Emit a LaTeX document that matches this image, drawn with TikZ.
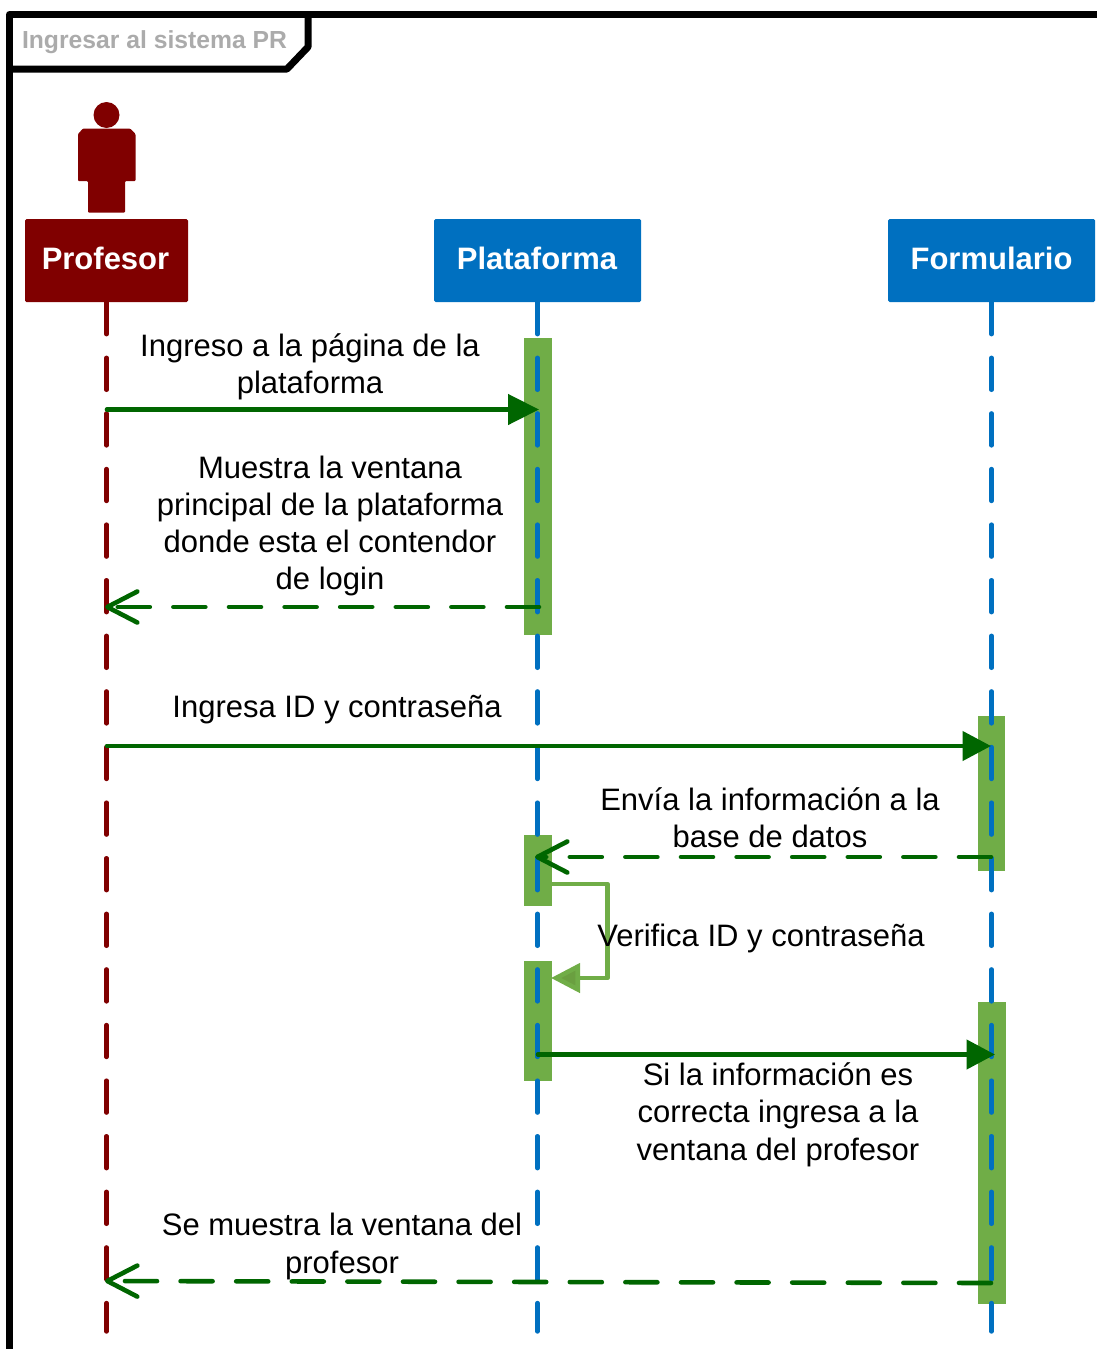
\documentclass[tikz,border=0pt]{standalone}
\usepackage{fontspec}
\setmainfont{Liberation Sans}
\usetikzlibrary{arrows.meta}
\definecolor{maroonc}{HTML}{800000}
\definecolor{bluec}{HTML}{0070C0}
\definecolor{barc}{HTML}{70AD47}
\definecolor{selfhead}{HTML}{6A9F40}
\definecolor{msgc}{HTML}{006600}
\definecolor{titlec}{HTML}{ABABAB}
\tikzset{
  header/.style={rectangle,rounded corners=1.5pt,minimum height=83pt,inner sep=0pt,text=white},
  headtext/.style={inner sep=0pt,text=white,font=\fontsize{31}{37}\selectfont\bfseries},
  lifeline/.style={line width=4.4pt,line cap=round,dash pattern=on 32pt off 23.6pt},
  actbar/.style={rectangle,fill=barc,minimum width=28pt,inner sep=0pt},
  msgsolid/.style={draw=msgc,line width=4.6pt,line cap=round,-{Triangle[length=31pt,width=30pt]}},
  msgsolidshort/.style={draw=msgc,line width=4.6pt,line cap=round,-{Triangle[length=28.5pt,width=29pt]}},
  msgdash/.style={draw=msgc,line width=4.6pt,line cap=round,dash pattern=on 32pt off 23.6pt,-{Straight Barb[length=30pt,width=31pt,round]}},
  selfmsg/.style={draw=barc,line width=4.6pt,line join=round,-{Triangle[length=29pt,width=29pt,fill=selfhead]}},
  label/.style={align=center,inner sep=0pt,font=\fontsize{31}{37.3}\selectfont,text=black},
  framepath/.style={line width=7pt,line join=round,draw=black},
}
\begin{document}
\begin{tikzpicture}[x=1pt,y=-1pt]
\useasboundingbox (0,0) rectangle (1097,1349);
% frame
\draw[framepath] (9.5,1349) -- (9.5,14.5) -- (1097,14.5);
\draw[framepath] (9.5,69) -- (287,69) -- (308,47) -- (308,14.5);
\node[inner sep=0pt,text=titlec,font=\fontsize{24.7}{30}\selectfont\bfseries] (title) at (154.5,42) {Ingresar al sistema PR};
% actor
\fill[maroonc] (106.5,115) circle (13);
\fill[maroonc,rounded corners=1pt] (83,128.5) -- (130,128.5) -- (135.5,134) -- (135.5,181) -- (125,181) -- (125,212.5) -- (88,212.5) -- (88,181) -- (78,181) -- (78,134) -- cycle;
% headers
\node[header,fill=maroonc,minimum width=163pt] (prof) at (106.5,260.5) {};
\node[header,fill=bluec,minimum width=207pt] (plat) at (537.5,260.5) {};
\node[header,fill=bluec,minimum width=207pt] (form) at (991.5,260.5) {};
\node[headtext] (proft) at (105.5,258.5) {Profesor};
\node[headtext] (platt) at (537,258.5) {Plataforma};
\node[headtext] (formt) at (991.5,258.5) {Formulario};
% activation bars
\node[actbar,minimum height=297pt] (pbarA) at (538,486.5) {};
\node[actbar,minimum height=71pt] (pbarB) at (538,870.5) {};
\node[actbar,minimum height=120pt] (pbarC) at (538,1021) {};
\node[actbar,minimum width=27pt,minimum height=155pt] (fbarA) at (991.5,793.5) {};
\node[actbar,minimum height=302pt] (fbarB) at (992,1153) {};
% lifelines
\coordinate (profend) at (106.5,1331.5);
\coordinate (platend) at (537.5,1331.5);
\coordinate (formend) at (991.5,1331.5);
\draw[lifeline,maroonc] (prof.south) -- (profend);
\draw[lifeline,bluec] (plat.south) -- (platend);
\draw[lifeline,bluec] (form.south) -- (formend);
% message end points
\coordinate (m1a) at (107,409.5);   \coordinate (m1b) at (539,409.5);
\coordinate (m2a) at (539,607);   \coordinate (m2b) at (105,607);
\coordinate (m3a) at (107,746);   \coordinate (m3b) at (991,746);
\coordinate (m4a) at (991,857);   \coordinate (m4b) at (535,857);
\coordinate (m5a) at (538,1054.5);\coordinate (m5b) at (995,1054.5);
\coordinate (m6a) at (991,1283);  \coordinate (m6b) at (105,1281);
\coordinate (s1) at (552,884);    \coordinate (s2) at (607.5,884);
\coordinate (s3) at (607.5,978);    \coordinate (s4) at (551,978);
% messages
\draw[msgsolid] (m1a) -- (m1b);
\draw[msgdash] (m2a) -- (m2b);
\draw[msgsolidshort] (m3a) -- (m3b);
\draw[msgdash] (m4a) -- (m4b);
\draw[selfmsg] (s1) -- (s2) -- (s3) -- (s4);
\draw[msgsolidshort] (m5a) -- (m5b);
\draw[msgdash] (m6a) -- (m6b);
% labels
\node[label] (t1) at (310,367) {Ingreso a la página de la\\plataforma};
\node[label] (t2) at (330,526) {Muestra la ventana\\principal de la plataforma\\donde esta el contendor\\de login};
\node[label] (t3) at (337,710) {Ingresa ID y contraseña};
\node[label] (t4) at (770,817.5) {Envía la información a la\\base de datos};
\node[label] (t5) at (761,938) {Verifica ID y contraseña};
\node[label] (t6) at (778,1114.5) {Si la información es\\correcta ingresa a la\\ventana del profesor};
\node[label] (t7) at (342,1246.5) {Se muestra la ventana del\\profesor};
\end{tikzpicture}
\end{document}
